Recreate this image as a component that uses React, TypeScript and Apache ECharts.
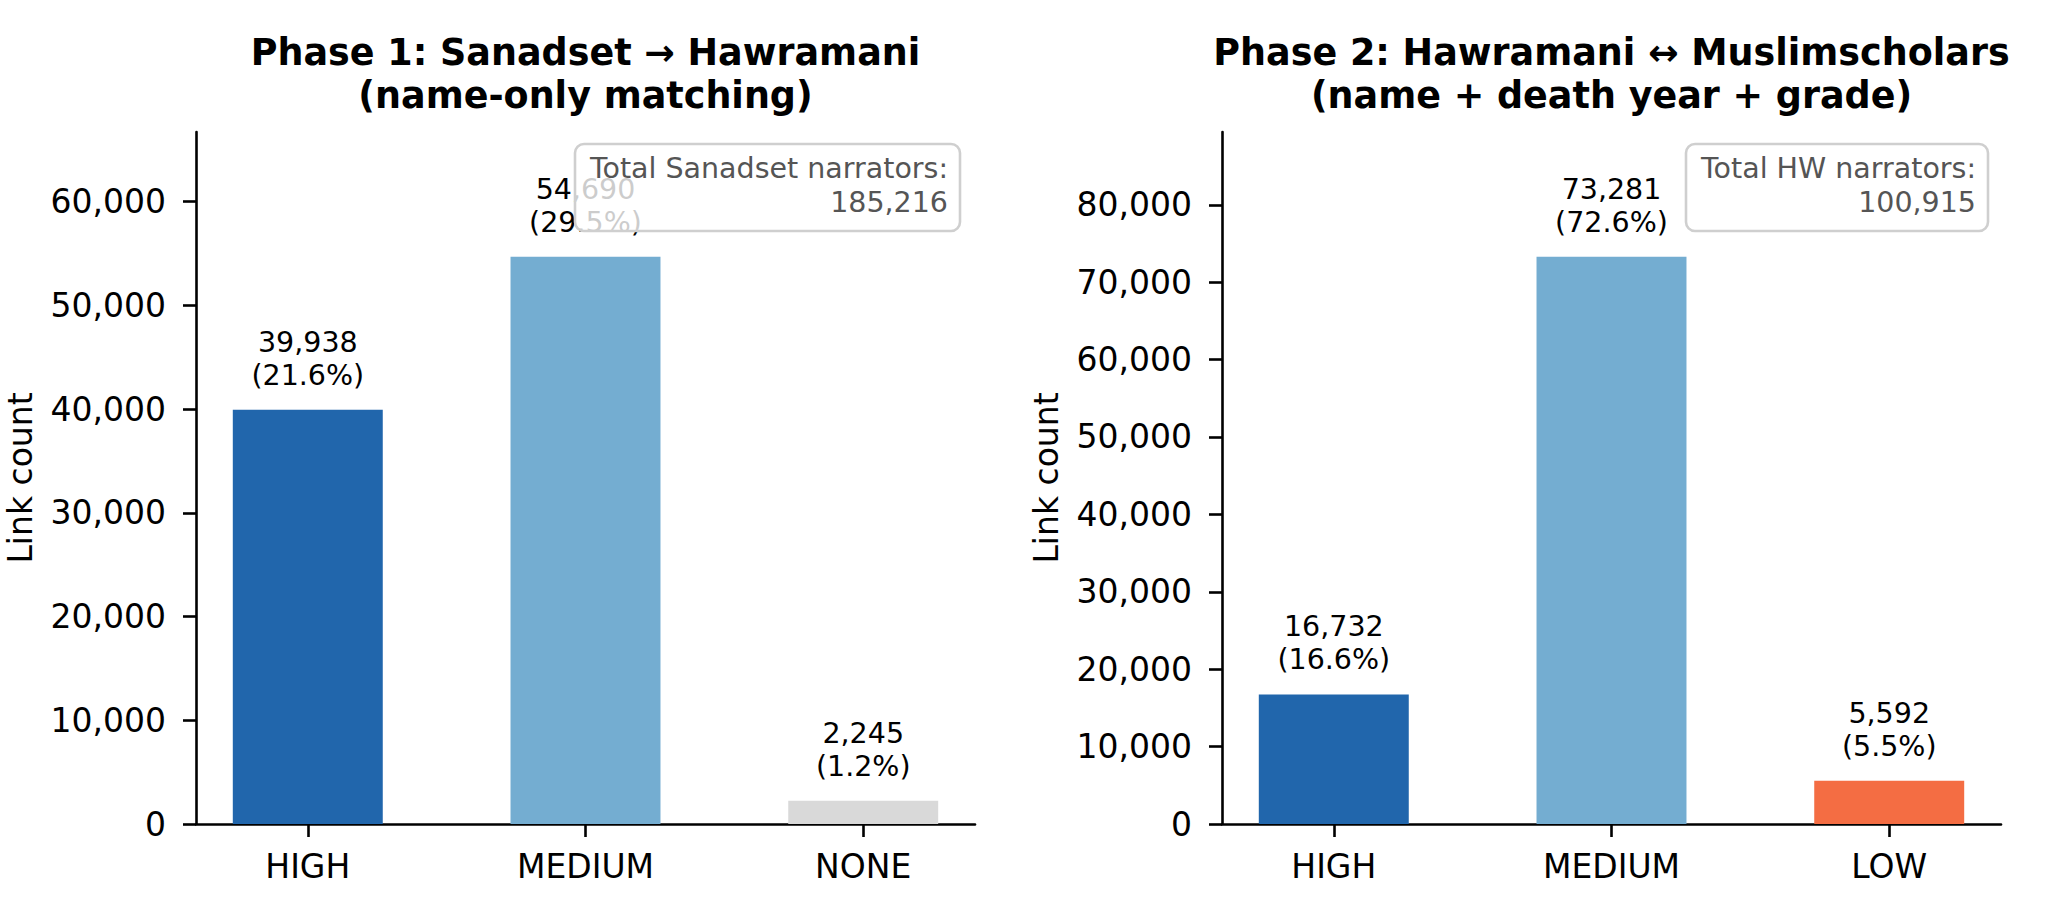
import React, { useEffect, useRef } from "react";
import * as echarts from "echarts";

const categoriesP1 = ["HIGH", "MEDIUM", "NONE"];
const valuesP1 = [39938, 54690, 2245];
const colorsP1 = ["#2166ac", "#74add1", "#d9d9d9"];
const totalP1 = 185216;

const categoriesP2 = ["HIGH", "MEDIUM", "LOW"];
const valuesP2 = [16732, 73281, 5592];
const colorsP2 = ["#2166ac", "#74add1", "#f46d43"];
const totalP2 = 100915;

const yTicksP1 = [0, 10000, 20000, 30000, 40000, 50000, 60000];
const yTicksP2 = [0, 10000, 20000, 30000, 40000, 50000, 60000, 70000, 80000];

const titleP1 = "Phase 1: Sanadset \u2192 Hawramani\n(name-only matching)";
const titleP2 = "Phase 2: Hawramani \u2194 Muslimscholars\n(name + death year + grade)";
const boxTextP1 = "Total Sanadset narrators:\n" + totalP1.toLocaleString("en-US");
const boxTextP2 = "Total HW narrators:\n" + totalP2.toLocaleString("en-US");

const FONT = "DejaVu Sans";
const fmt = (v: number) => v.toLocaleString("en-US");

function barData(values: number[], colors: string[], total: number) {
  return values.map((v, i) => ({
    value: [i, v],
    itemStyle: { color: colors[i] },
    label: {
      formatter: fmt(v) + "\n(" + ((v / total) * 100).toFixed(1) + "%)",
    },
  }));
}

function axes(idx: number, cats: string[], yTicks: number[], yMax: number) {
  const xAxis = {
    type: "value",
    gridIndex: idx,
    min: -0.4025,
    max: 2.4025,
    splitLine: { show: false },
    axisLine: { show: true, onZero: false, lineStyle: { color: "#000", width: 2.6 } },
    axisTick: { show: true, customValues: [0, 1, 2], length: 13, lineStyle: { color: "#000", width: 2.6 } },
    axisLabel: {
      customValues: [0, 1, 2],
      formatter: (v: number) => cats[Math.round(v)] ?? "",
      fontSize: 33,
      fontFamily: FONT,
      color: "#000",
      margin: 26,
    },
  };
  const yAxis = {
    type: "value",
    gridIndex: idx,
    min: 0,
    max: yMax,
    name: "Link count",
    nameLocation: "middle",
    nameGap: 159,
    nameRotate: 90,
    nameTextStyle: { fontSize: 33, fontFamily: FONT, color: "#000" },
    splitLine: { show: false },
    axisLine: { show: true, onZero: false, lineStyle: { color: "#000", width: 2.6 } },
    axisTick: { show: true, customValues: yTicks, length: 13, lineStyle: { color: "#000", width: 2.6 } },
    axisLabel: {
      customValues: yTicks,
      formatter: (v: number) => fmt(v),
      fontSize: 33,
      fontFamily: FONT,
      color: "#000",
      margin: 30,
    },
  };
  return { xAxis, yAxis };
}

function annotationBox(x: number, y: number, w: number, h: number, text: string) {
  return {
    type: "group",
    z: 100,
    children: [
      {
        type: "rect",
        z: 100,
        shape: { x, y, width: w, height: h, r: 9 },
        style: { fill: "rgba(255,255,255,0.8)", stroke: "#cfcfcf", lineWidth: 2.6 },
      },
      {
        type: "text",
        z: 101,
        x: x + w - 12,
        y: y + 7,
        style: {
          text,
          fill: "#555555",
          font: `28.5px '${FONT}'`,
          fontSize: 28.5,
          fontFamily: FONT,
          textAlign: "right",
          textVerticalAlign: "top",
          lineHeight: 34,
        },
      },
    ],
  };
}

export default function App() {
  const ref = useRef<HTMLDivElement>(null);

  useEffect(() => {
    document.body.style.margin = "0";
    if (!ref.current) return;
    const chart = echarts.init(ref.current, undefined, { renderer: "svg" });

    const maxP1 = Math.max(...valuesP1) * 1.22;
    const maxP2 = Math.max(...valuesP2) * 1.22;
    const a1 = axes(0, categoriesP1, yTicksP1, maxP1);
    const a2 = axes(1, categoriesP2, yTicksP2, maxP2);

    const labelCommon = {
      show: true,
      position: "top",
      distance: 18,
      fontSize: 28.5,
      fontFamily: FONT,
      color: "#000",
      lineHeight: 33,
      align: "center",
    };

    chart.setOption({
      animation: false,
      backgroundColor: "#ffffff",
      title: [
        {
          text: titleP1,
          left: 585.5,
          top: 31,
          padding: 0,
          textAlign: "center",
          textStyle: { fontSize: 36.5, fontWeight: "bold", fontFamily: FONT, color: "#000", lineHeight: 43 },
        },
        {
          text: titleP2,
          left: 1611.5,
          top: 31,
          padding: 0,
          textAlign: "center",
          textStyle: { fontSize: 36.5, fontWeight: "bold", fontFamily: FONT, color: "#000", lineHeight: 43 },
        },
      ],
      grid: [
        { left: 196, top: 132, width: 779, height: 692, containLabel: false, outerBoundsMode: "none" },
        { left: 1222, top: 132, width: 779, height: 692, containLabel: false, outerBoundsMode: "none" },
      ],
      xAxis: [a1.xAxis, a2.xAxis],
      yAxis: [a1.yAxis, a2.yAxis],
      series: [
        {
          type: "bar",
          xAxisIndex: 0,
          yAxisIndex: 0,
          barWidth: "54%",
          label: labelCommon,
          data: barData(valuesP1, colorsP1, totalP1),
        },
        {
          type: "bar",
          xAxisIndex: 1,
          yAxisIndex: 1,
          barWidth: "54%",
          label: labelCommon,
          data: barData(valuesP2, colorsP2, totalP2),
        },
      ],
      graphic: [
        annotationBox(575, 144, 385, 87, boxTextP1),
        annotationBox(1686, 144, 302, 87, boxTextP2),
      ],
    });

    return () => chart.dispose();
  }, []);

  return (
    <div
      ref={ref}
      style={{ position: "absolute", left: 0, top: 0, width: 2049, height: 917, background: "#fff" }}
    />
  );
}
